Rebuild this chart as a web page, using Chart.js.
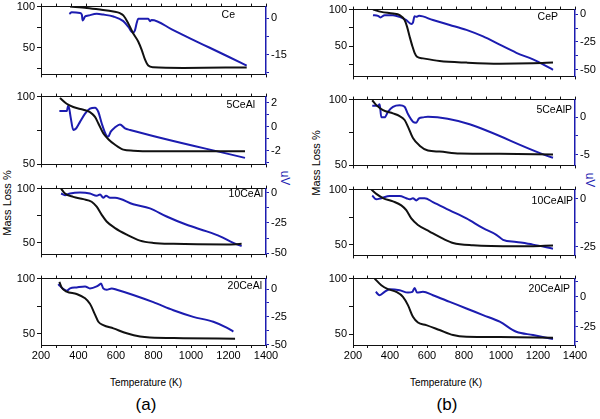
<!DOCTYPE html>
<html>
<head>
<meta charset="utf-8">
<script src="https://cdn.jsdelivr.net/npm/chart.js@4.4.0/dist/chart.umd.min.js"></script>
<style>
  body { margin: 0; background: #fff; }
  #page { position: relative; width: 600px; height: 419px; overflow: hidden; font-family: Arial, "Liberation Sans", sans-serif; }
  #page canvas { position: absolute; }
  .txt { position: absolute; white-space: nowrap; color: #000; transform: translate(-50%, -50%); }
  .rot { transform: translate(-50%, -50%) rotate(-90deg); }
  .rotcw { transform: translate(-50%, -50%) rotate(90deg); }
</style>
</head>
<body>
<div id="page">
  <div class="txt rot" style="left:7px; top:203px; font-size:11px;">Mass Loss %</div>
  <div class="txt rot" style="left:316px; top:163px; font-size:11px;">Mass Loss %</div>
  <div class="txt rotcw" style="left:285px; top:178px; font-size:12px; color:#1c1cb0;">uV</div>
  <div class="txt rotcw" style="left:590px; top:180px; font-size:12px; color:#1c1cb0;">uV</div>
  <div class="txt" style="left:146px; top:382px; font-size:10px;">Temperature (K)</div>
  <div class="txt" style="left:446px; top:382px; font-size:10px;">Temperature (K)</div>
  <div class="txt" style="left:146px; top:405px; font-size:17px;">(a)</div>
  <div class="txt" style="left:447px; top:405px; font-size:17px;">(b)</div>
</div>
<script>
// ---- data: temperature (K), mass (%) and DTA signal (uV) ----
const ceMassT = [355, 444, 515, 586, 621, 639, 666, 692, 719, 737, 755, 772, 799, 959, 1297];
const ceMass = [100, 98.4, 96.4, 94, 92, 89.3, 79.4, 67.5, 57.5, 47.6, 35.7, 28.6, 26.6, 25.8, 26.4];
const ceUvT = [351, 364, 408, 418, 422, 428, 435, 452, 497, 532, 586, 639, 666, 689, 701, 710, 719, 772, 781, 790, 900, 1000, 1100, 1200, 1297];
const ceUv = [1.9, 2.6, 2.3, 1.5, -0.8, -0.2, 0.8, 1.2, 1.9, 1.6, 0.8, -1.1, -3.5, -5.8, -4.9, -2, -0.1, -0.1, -1.1, -0.6, -4.6, -8.4, -12.1, -15.8, -19.5];

const al5MassT = [301, 337, 372, 426, 461, 488, 506, 532, 559, 595, 639, 692, 799, 1288];
const al5Mass = [99, 94.7, 92.3, 90.3, 88.6, 85, 80.2, 73, 68.6, 64.5, 60.9, 60.1, 59.7, 59.7];
const al5UvT = [298, 337, 346, 358, 372, 387, 408, 435, 461, 488, 506, 524, 547, 559, 572, 595, 621, 648, 675, 1288];
const al5Uv = [1.3, 1.3, 1.77, 0.8, -0.27, -0.15, 0.4, 1.09, 1.5, 1.58, 1.22, 0.27, -0.68, -0.82, -0.41, -0.05, 0.19, -0.14, -0.27, -2.59];

const al10MassT = [307, 328, 372, 426, 470, 497, 524, 550, 595, 657, 728, 799, 906, 1190, 1270];
const al10Mass = [100, 95.5, 92.4, 90.3, 87.9, 83.3, 75.8, 69.7, 63.6, 57.6, 52.1, 50, 49.1, 48.5, 49.1];
const al10UvT = [307, 328, 355, 408, 461, 497, 515, 532, 547, 568, 595, 692, 781, 870, 977, 1084, 1155, 1226, 1270];
const al10Uv = [-0.8, -2.2, -0.8, 0, -0.8, -2.7, -1.6, -4.3, -2.7, -4.3, -4.3, -9.7, -13, -19.7, -26.5, -31.9, -36, -41.4, -44];

const al20MassT = [298, 310, 337, 390, 435, 461, 488, 506, 532, 586, 657, 728, 781, 959, 1235];
const al20Mass = [97, 92, 88.2, 86.1, 82.2, 77.2, 67.5, 61, 58, 55, 50.6, 47.6, 46.7, 46.2, 45.6];
const al20UvT = [292, 301, 319, 337, 355, 390, 435, 461, 497, 515, 520, 532, 550, 577, 604, 692, 799, 906, 1012, 1119, 1190, 1226];
const al20Uv = [4.4, 2.9, 0, -1.5, 0.6, 1.5, 2.4, 0.6, 2.4, 4.4, 5, 0.6, -0.6, 0.6, -0.6, -5.3, -11.8, -19.1, -25, -29.4, -34.7, -38.2];

const cepMassT = [308, 353, 416, 452, 479, 492, 506, 521, 533, 546, 578, 668, 813, 993, 1173, 1281];
const cepMass = [100, 96.9, 94.6, 92.4, 85.7, 76.8, 63.4, 50, 41.1, 35.7, 33.5, 29.9, 27.7, 26.3, 26.8, 27.7];
const cepUvT = [308, 335, 348, 371, 416, 452, 488, 515, 524, 533, 542, 557, 632, 723, 813, 903, 993, 1083, 1173, 1227, 1281];
const cepUv = [-0.9, -1.5, -2.9, -0.9, -0.9, -2.4, -5.3, -8.8, -7.6, -1.8, -2.4, -1.5, -5.3, -9.7, -14.1, -20, -27.4, -34.7, -40.6, -45, -50];

const al5pMassT = [304, 326, 362, 416, 452, 479, 497, 524, 560, 605, 668, 777, 993, 1281];
const al5pMass = [99.5, 95.8, 92, 89.5, 87.5, 84.5, 79.5, 70.8, 65, 61.3, 60.5, 59, 58.8, 58.3];
const al5pUvT = [304, 335, 344, 353, 371, 389, 416, 452, 479, 497, 524, 542, 557, 578, 605, 1281];
const al5pUv = [1.55, 1.55, 1.77, 0, 0, 0.75, 1.42, 1.64, 1.42, 0.44, -0.58, -0.71, -0.13, 0, 0.09, -5.44];

const al10pMassT = [299, 326, 362, 416, 461, 488, 515, 551, 614, 686, 741, 849, 1083, 1281];
const al10pMass = [100, 96.1, 92.3, 89.3, 85.7, 81.3, 73.8, 67.9, 61.9, 55.4, 51.5, 49.4, 48.5, 49.1];
const al10pUvT = [304, 326, 353, 398, 452, 488, 506, 524, 542, 560, 587, 632, 723, 813, 903, 975, 1011, 1083, 1173, 1281];
const al10pUv = [1.7, -0.3, 0.3, 1.4, 1.4, 0.3, -0.3, 0.3, -0.85, 0.3, 0.3, -1.7, -6, -10.2, -15.3, -18.7, -21.3, -22.4, -23.8, -25.9];

const al20pMassT = [317, 353, 389, 434, 470, 497, 524, 551, 596, 668, 741, 813, 993, 1281];
const al20pMass = [100, 94, 90.5, 88.1, 83.6, 76.2, 65.8, 60.7, 58.3, 53.9, 49.4, 47.9, 47.6, 47];
const al20pUvT = [323, 344, 371, 398, 452, 497, 521, 533, 546, 578, 632, 723, 813, 903, 993, 1083, 1173, 1281];
const al20pUv = [4.2, 1.4, 4.2, 6.4, 5.6, 3.6, 4.2, 7.5, 3.6, 4.2, 1.4, -4.2, -9.7, -15.3, -20.8, -29.2, -31.9, -35.3];

// axis ticks
const tempLabels = [200, 400, 600, 800, 1000, 1200, 1400];
const massTicks = [25, 50, 75, 100];
const massLabels = [50, 100];

const BLACK = '#111111';
const BLUE = '#1c1cb0';
const FAMILY = 'Arial, "Liberation Sans", sans-serif';
Chart.defaults.font.family = FAMILY;
Chart.defaults.color = '#000';

function pts(xs, ys) {
  return xs.map(function (x, i) { return { x: x, y: ys[i] }; });
}

function tickList(list) {
  return function (scale) {
    scale.ticks = list.filter(v => v >= scale.min - 1e-9 && v <= scale.max + 1e-9).map(v => ({ value: v }));
  };
}

const panelLabel = {
  id: 'panelLabel',
  afterDraw(chart, args, opts) {
    const a = chart.chartArea, ctx = chart.ctx;
    ctx.save();
    ctx.font = Chart.helpers.toFont({ size: 10.5, family: FAMILY }).string;
    ctx.fillStyle = '#000';
    ctx.textAlign = 'right';
    ctx.textBaseline = 'middle';
    ctx.fillText(opts.text, a.right - opts.dx, a.top + opts.dy);
    ctx.restore();
  }
};

// column a: plot x 41..266, column b: plot x 353..575
const colA = { left: 0, L: 41, W: 225, R: 34 };
const colB = { left: 303, L: 50, W: 222, R: 25 };

const panels = [
  { col: colA, top: 6, bottom: 75, name: 'Ce', dx: 31, dy: 9, mT: ceMassT, m: ceMass, uT: ceUvT, u: ceUv,
    yMin: 17.9, y2Min: -23.1, y2Max: 4.9, uTicks: [0, -7.5, -15, -22.5], uLabels: [0, -15] },
  { col: colA, top: 96, bottom: 165, name: '5CeAl', dx: 11, dy: 9, mT: al5MassT, m: al5Mass, uT: al5UvT, u: al5Uv,
    yMin: 50, y2Min: -3.13, y2Max: 2.5, uTicks: [2, 1, 0, -1, -2, -3], uLabels: [2, 0, -2] },
  { col: colA, top: 188, bottom: 255, name: '10CeAl', dx: 3, dy: 6, mT: al10MassT, m: al10Mass, uT: al10UvT, u: al10Uv,
    yMin: 39.4, y2Min: -50.8, y2Max: 3.2, uTicks: [0, -12.5, -25, -37.5, -50], uLabels: [0, -25, -50] },
  { col: colA, top: 278, bottom: 345, name: '20CeAl', dx: 4, dy: 8, mT: al20MassT, m: al20Mass, uT: al20UvT, u: al20Uv,
    yMin: 40, y2Min: -50.3, y2Max: 9.4, uTicks: [0, -12.5, -25, -37.5, -50], uLabels: [0, -25, -50], xLabels: true },
  { col: colB, top: 9, bottom: 77, name: 'CeP', dx: 17, dy: 8, mT: cepMassT, m: cepMass, uT: cepUvT, u: cepUv,
    yMin: 8.9, y2Min: -55.9, y2Max: 4.1, uTicks: [0, -12.5, -25, -37.5, -50], uLabels: [0, -25, -50] },
  { col: colB, top: 99, bottom: 166, name: '5CeAlP', dx: 3, dy: 11, mT: al5pMassT, m: al5pMass, uT: al5pUvT, u: al5pUv,
    yMin: 50, y2Min: -6.46, y2Max: 2.39, uTicks: [0, -2.5, -5], uLabels: [0, -5] },
  { col: colB, top: 189, bottom: 256, name: '10CeAlP', dx: 2, dy: 12, mT: al10pMassT, m: al10pMass, uT: al10pUvT, u: al10pUv,
    yMin: 40.2, y2Min: -29.4, y2Max: 4.76, uTicks: [0, -12.5, -25], uLabels: [0, -25] },
  { col: colB, top: 278, bottom: 345, name: '20CeAlP', dx: 5, dy: 11, mT: al20pMassT, m: al20pMass, uT: al20pUvT, u: al20pUv,
    yMin: 40.5, y2Min: -40.3, y2Max: 15.3, uTicks: [12.5, 0, -12.5, -25, -37.5], uLabels: [0, -25], xLabels: true }
];

const PAD_TOP = 8;
const page = document.getElementById('page');

panels.forEach(function (p) {
  const c = p.col;
  const bottomSpace = p.xLabels ? 22 : 8;
  const canvas = document.createElement('canvas');
  canvas.width = c.L + c.W + c.R;
  canvas.height = PAD_TOP + (p.bottom - p.top) + bottomSpace;
  canvas.style.left = c.left + 'px';
  canvas.style.top = (p.top - PAD_TOP) + 'px';
  page.appendChild(canvas);

  const scales = {
    x: {
      type: 'linear', position: 'bottom', min: 200, max: 1400, weight: 1,
      ticks: { display: false, stepSize: 80 },
      grid: { drawOnChartArea: false, tickLength: 3, color: BLACK },
      border: { color: BLACK, width: 1 },
      afterFit: function (s) { s.height = 0; }
    },
    xt: {
      type: 'linear', position: 'top', min: 200, max: 1400,
      ticks: { display: false, stepSize: 80 },
      grid: { drawOnChartArea: false, tickLength: 3, color: BLACK },
      border: { color: BLACK, width: 1 },
      afterFit: function (s) { s.height = 0; }
    },
    y: {
      type: 'linear', position: 'left', min: p.yMin, max: 100,
      afterBuildTicks: tickList(massTicks),
      ticks: {
        autoSkip: false, padding: 2, font: { size: 11 }, color: '#000',
        callback: function (v) { return massLabels.includes(v) ? String(v) : ''; }
      },
      grid: { drawOnChartArea: false, tickLength: 4, color: BLACK },
      border: { color: BLACK, width: 1 },
      afterFit: function (s) { s.width = c.L; }
    },
    y2: {
      type: 'linear', position: 'right', min: p.y2Min, max: p.y2Max,
      afterBuildTicks: tickList(p.uTicks),
      ticks: {
        autoSkip: false, padding: 2, font: { size: 11 }, color: '#000',
        callback: function (v) { return p.uLabels.includes(v) ? String(v) : ''; }
      },
      grid: { drawOnChartArea: false, tickLength: 3, color: BLUE },
      border: { color: BLUE, width: 1.5 },
      afterFit: function (s) { s.width = c.R; }
    }
  };
  if (p.xLabels) {
    scales.xl = {
      type: 'linear', position: 'bottom', min: 200, max: 1400, weight: 2,
      afterBuildTicks: tickList(tempLabels),
      ticks: {
        autoSkip: false, maxRotation: 0, padding: 4, font: { size: 11 }, color: '#000',
        callback: function (v) { return String(v); }
      },
      grid: { display: false, drawTicks: false },
      border: { display: false },
      afterFit: function (s) { s.height = bottomSpace; }
    };
  }

  new Chart(canvas, {
    type: 'line',
    data: {
      datasets: [
        {
          data: pts(p.mT, p.m), xAxisID: 'x', yAxisID: 'y',
          borderColor: BLACK, borderWidth: 2, pointRadius: 0,
          cubicInterpolationMode: 'monotone', fill: false
        },
        {
          data: pts(p.uT, p.u), xAxisID: 'x', yAxisID: 'y2',
          borderColor: BLUE, borderWidth: 2, pointRadius: 0,
          cubicInterpolationMode: 'monotone', fill: false
        }
      ]
    },
    options: {
      responsive: false,
      animation: false,
      layout: { padding: { top: PAD_TOP, left: 0, right: 0, bottom: 0 } },
      plugins: {
        legend: { display: false },
        tooltip: { enabled: false },
        panelLabel: { text: p.name, dx: p.dx, dy: p.dy }
      },
      scales: scales
    },
    plugins: [panelLabel]
  });
});
</script>
</body>
</html>
